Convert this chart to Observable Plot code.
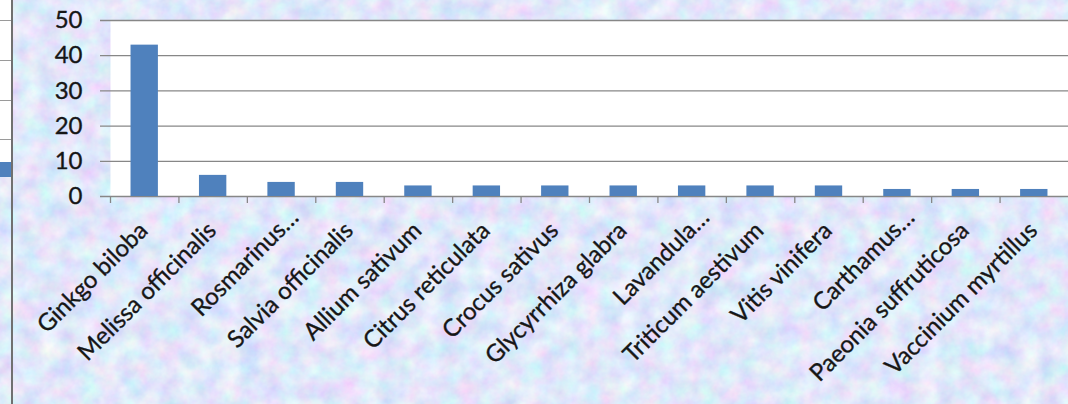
<!DOCTYPE html>
<html>
<head>
<meta charset="utf-8">
<script src="https://cdn.jsdelivr.net/npm/d3@7"></script>
<script src="https://cdn.jsdelivr.net/npm/@observablehq/plot@0.6"></script>
<style>
  html, body { margin: 0; padding: 0; }
  body {
    width: 1068px; height: 404px; overflow: hidden; position: relative;
    background-color: #c8d2f0;
    background-image: url("data:image/svg+xml;utf8,<svg xmlns='http://www.w3.org/2000/svg' width='1068' height='404'><filter id='n' x='0' y='0' width='100%' height='100%'><feTurbulence type='fractalNoise' baseFrequency='0.05' numOctaves='4' seed='11'/><feColorMatrix type='matrix' values='0.5 0 0 0 0.5  0 0.45 0 0 0.58  0 0 0.15 0 0.88  0 0 0 0 1'/></filter><rect width='100%' height='100%' filter='url(%23n)'/></svg>");
  }
  #frag {
    position: absolute; left: 0; top: 0; width: 11px; height: 162px; background: #fff;
    background-image: linear-gradient(#9a9a9a, #9a9a9a), linear-gradient(#9a9a9a, #9a9a9a), linear-gradient(#9a9a9a, #9a9a9a), linear-gradient(#9a9a9a, #9a9a9a);
    background-size: 100% 1px; background-repeat: no-repeat;
    background-position: 0 20px, 0 60px, 0 100px, 0 139px;
  }
  #fragbar { position: absolute; left: 0; top: 162px; width: 11px; height: 15px; background: #4f81bd; }
  #border { position: absolute; left: 11px; top: 0; width: 2px; height: 404px; background: #707070; }
  #chart { position: absolute; left: 0; top: 0; }
</style>
</head>
<body>
<div id="frag"></div>
<div id="fragbar"></div>
<div id="border"></div>
<div id="chart"></div>
<script>
const categories = ["Ginkgo biloba", "Melissa officinalis", "Rosmarinus…", "Salvia officinalis", "Allium sativum", "Citrus reticulata", "Crocus sativus", "Glycyrrhiza glabra", "Lavandula…", "Triticum aestivum", "Vitis vinifera", "Carthamus…", "Paeonia suffruticosa", "Vaccinium myrtillus"];
const counts = [43, 6, 4, 4, 3, 3, 3, 3, 3, 3, 3, 2, 2, 2];
const yTicks = [0, 10, 20, 30, 40, 50];

const data = categories.map((c, i) => ({category: c, count: counts[i]}));

const W = 1068, H = 404, mL = 110, mR = 0, mT = 20, mB = 208;
const step = (W - mL - mR) / categories.length;
const grey = "#878787";
const textColor = "#161616";
const font = "Lato, 'Open Sans', sans-serif";
const textStyle = {fill: textColor, stroke: textColor, strokeWidth: 0.35, fontSize: 24};

const chart = Plot.plot({
  width: W, height: H,
  marginLeft: mL, marginRight: mR, marginTop: mT, marginBottom: mB,
  style: {background: "transparent", fontFamily: font, fontSize: "24px", color: textColor, overflow: "visible"},
  x: {domain: categories, paddingInner: 0.6, paddingOuter: 0.3, round: false, axis: null},
  y: {domain: [0, 50], axis: null},
  marks: [
    Plot.frame({fill: "white", stroke: null}),
    Plot.ruleY(yTicks, {y: d => d, stroke: grey, strokeWidth: 1.3, insetLeft: -10}),
    Plot.ruleX(categories, {x: d => d, y1: 0, y2: 0, insetBottom: -7, dx: -step / 2, stroke: grey, strokeWidth: 1.3}),
    Plot.barY(data, {x: "category", y: "count", fill: "#4f81bd"}),
    Plot.text(yTicks, {y: d => d, text: d => String(d), frameAnchor: "left", textAnchor: "end", dx: -28, ...textStyle}),
    Plot.text(categories.filter(c => !c.endsWith("…")), {x: d => d, y: 0, text: d => d, rotate: -45, textAnchor: "end", lineAnchor: "bottom", dx: 4.5, dy: 35.5, ...textStyle}),
    Plot.text(categories.filter(c => c.endsWith("…")), {x: d => d, y: 0, text: d => d, rotate: -45, textAnchor: "end", lineAnchor: "bottom", dx: 18.5, dy: 22.5, ...textStyle})
  ]
});
document.getElementById("chart").appendChild(chart);
</script>
</body>
</html>
